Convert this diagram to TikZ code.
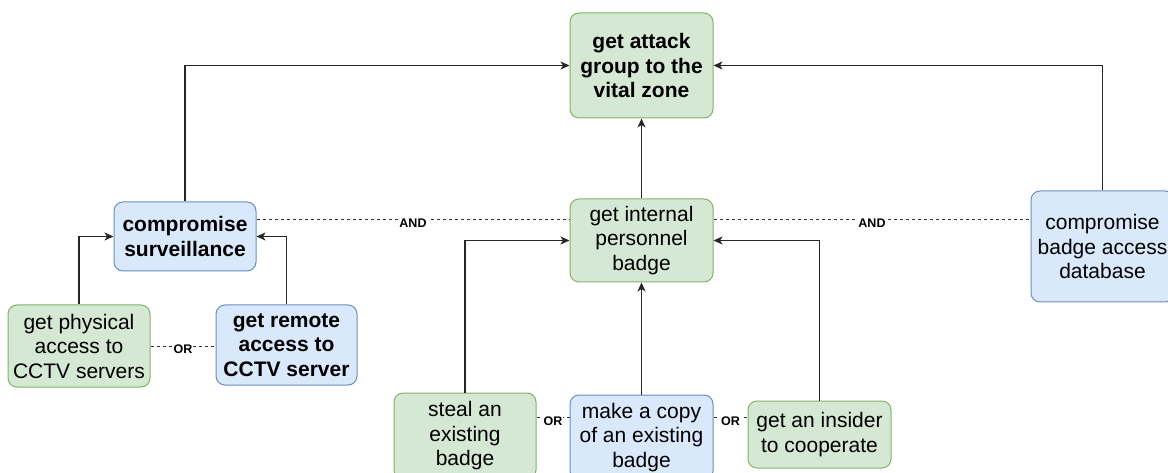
\documentclass[tikz,border=0pt]{standalone}
\usepackage{fontspec}
\setmainfont{Liberation Sans}
\usetikzlibrary{arrows.meta}

\definecolor{gfill}{HTML}{D5E8D4}
\definecolor{gline}{HTML}{82B366}
\definecolor{bfill}{HTML}{DAE8FC}
\definecolor{bline}{HTML}{6C8EBF}

\tikzset{
  box/.style={rounded corners=9pt, line width=1pt, align=center, inner sep=2pt,
    font=\fontsize{21}{24.5}\selectfont},
  greenbox/.style={box, fill=gfill, draw=gline},
  bluebox/.style={box, fill=bfill, draw=bline},
  link/.style={line width=1.2pt, draw=black!85,
    -{Stealth[length=9pt,width=8pt,inset=2.5pt]}},
  gate/.style={line width=0.9pt, draw=black!80, dash pattern=on 3pt off 3pt},
  gatelabel/.style={fill=white, inner sep=1pt, yshift=-4pt,
    font=\fontsize{12.5}{14}\selectfont\bfseries}
}

\begin{document}
\begin{tikzpicture}[x=1pt,y=-1pt]
\useasboundingbox (0,0) rectangle (1168,473);

% goal and its three sub-goals
\node[greenbox, minimum width=143pt, minimum height=105pt] (goal) at (641.5,65.5)
  {\bfseries get attack\\\bfseries group to the\\\bfseries vital zone};
\node[bluebox, minimum width=142pt, minimum height=69pt] (surv) at (185,236.5)
  {\bfseries compromise\\\bfseries surveillance};
\node[greenbox, minimum width=143pt, minimum height=83pt] (badge) at (641.5,240.5)
  {get internal\\personnel\\badge};
\node[bluebox, minimum width=143pt, minimum height=111pt] (db) at (1102.5,246.5)
  {compromise\\badge access\\database};

% ways to compromise surveillance
\node[greenbox, minimum width=142pt, minimum height=82pt] (phys) at (79,346)
  {get physical\\access to\\CCTV servers};
\node[bluebox, minimum width=141pt, minimum height=80pt] (remote) at (286.5,345)
  {\bfseries get remote\\\bfseries access to\\\bfseries CCTV server};

% ways to get a badge
\node[greenbox, minimum width=142pt, minimum height=86pt] (steal) at (465,436)
  {steal an\\existing\\badge};
\node[bluebox, minimum width=143pt, minimum height=85pt] (copy) at (641.5,437.5)
  {make a copy\\of an existing\\badge};
\node[greenbox, minimum width=143pt, minimum height=67pt] (insider) at (819.5,434.5)
  {get an insider\\to cooperate};

% arrows towards the goal
\draw[link] (surv.north) |- (goal.west);
\draw[link] (db.north) |- (goal.east);
\draw[link] (badge.north) -- (goal.south);

% arrows towards the sub-goals
\draw[link] (phys.north) |- (surv.west);
\draw[link] (remote.north) |- (surv.east);
\draw[link] (steal.north) |- (badge.west);
\draw[link] (copy.north) -- (badge.south);
\draw[link] (insider.north) |- (badge.east);

% AND / OR gates
\coordinate (androw) at ([yshift=17.5pt]surv.east);
\draw[gate] (androw) -- node[gatelabel] {AND} (androw -| badge.west);
\draw[gate] (androw -| badge.east) -- node[gatelabel] {AND} (androw -| db.west);

\draw[gate] (phys.east) -- node[gatelabel, yshift=1pt] {OR} (phys.east -| remote.west);

\coordinate (orrow) at ([yshift=19pt]steal.east);
\draw[gate] (orrow) -- node[gatelabel] {OR} (orrow -| copy.west);
\draw[gate] (orrow -| copy.east) -- node[gatelabel] {OR} (orrow -| insider.west);
\end{tikzpicture}
\end{document}
